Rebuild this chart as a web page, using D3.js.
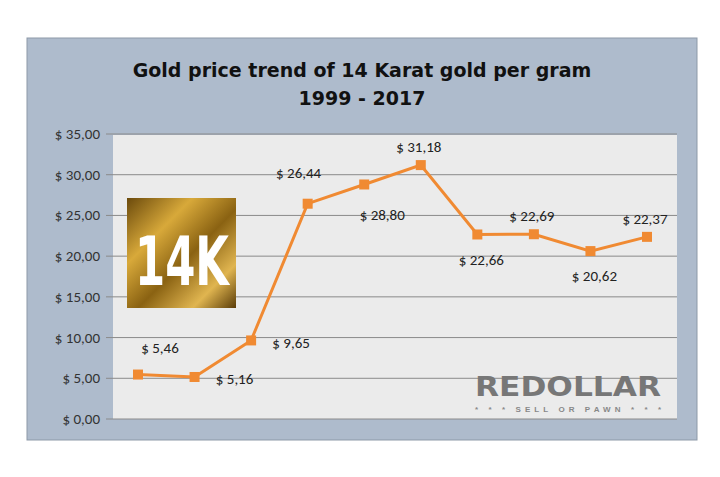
<!DOCTYPE html>
<html><head><meta charset="utf-8">
<script src="https://cdn.jsdelivr.net/npm/d3@7"></script>
<style>body{margin:0;background:#fff}</style></head>
<body><svg id="c" width="720" height="477"></svg>
<script>
const categories=["1999","2001","2003","2005","2007","2009","2011","2013","2015","2017"];
const values=[5.46,5.16,9.65,26.44,28.80,31.18,22.66,22.69,20.62,22.37];
const labelPos=["aboveRight","right","right","aboveLeft","belowRight","above","below","above","below","above"];
const yTicks=[0,5,10,15,20,25,30,35];
const off={aboveRight:[22,-27],right:[40,2],aboveLeft:[-9,-31],belowRight:[18,30],above:[-2,-18],below:[4,25]};
const svg=d3.select("#c");
svg.append("rect").attr("x",27).attr("y",38).attr("width",670).attr("height",402).attr("fill","#aebbcc").attr("stroke","#8d99a8");
svg.append("rect").attr("x",113).attr("y",135).attr("width",564).attr("height",284).attr("fill","#ebebeb");
const x=d3.scalePoint().domain(categories).range([138,647]);
const y=d3.scaleLinear().domain([0,35]).range([419,134]);
const fmt=v=>"$ "+d3.format(".2f")(v).replace(".",",");
const f="Carlito, Calibri, 'Open Sans', sans-serif";
svg.selectAll(".g").data(yTicks).enter().append("line").attr("x1",106).attr("x2",677)
 .attr("y1",d=>y(d)).attr("y2",d=>y(d)).attr("stroke","#8a8a8a").attr("stroke-width",1);
svg.selectAll(".yl").data(yTicks).enter().append("text").attr("x",100).attr("y",d=>y(d)+5)
 .attr("text-anchor","end").attr("font-family",f).attr("font-size",15).attr("fill","#333").text(fmt);
const tf="'DejaVu Sans', Arial, sans-serif";
svg.append("text").attr("x",362).attr("y",77).attr("text-anchor","middle").attr("font-family",tf)
 .attr("font-weight","bold").attr("font-size",19).attr("fill","#111").text("Gold price trend of 14 Karat gold per gram");
svg.append("text").attr("x",362).attr("y",105).attr("text-anchor","middle").attr("font-family",tf)
 .attr("font-weight","bold").attr("font-size",19).attr("fill","#111").text("1999 - 2017");
const defs=svg.append("defs");
const gr=defs.append("linearGradient").attr("id","gold").attr("x1",0).attr("y1",0).attr("x2",1).attr("y2",1);
[["0%","#6b4a0c"],["30%","#d8a93a"],["55%","#8a6212"],["80%","#e0b550"],["100%","#5a3c08"]].forEach(s=>gr.append("stop").attr("offset",s[0]).attr("stop-color",s[1]));
svg.append("rect").attr("x",127).attr("y",198).attr("width",109).attr("height",110).attr("fill","url(#gold)");
svg.append("text").attr("x",135).attr("y",285).attr("font-family","'DejaVu Sans Condensed', sans-serif")
 .attr("font-weight","bold").attr("font-size",68).attr("textLength",94).attr("lengthAdjust","spacingAndGlyphs").attr("fill","#fff").text("14K");
svg.append("text").attr("x",568).attr("y",396).attr("text-anchor","middle").attr("font-family","'DejaVu Sans', Arial, sans-serif")
 .attr("font-weight","bold").attr("font-size",27).attr("textLength",186).attr("lengthAdjust","spacingAndGlyphs").attr("fill","#777").text("REDOLLAR");
svg.append("text").attr("x",568).attr("y",412).attr("text-anchor","middle").attr("font-family","Arial, Liberation Sans, sans-serif")
 .attr("font-weight","bold").attr("font-size",8).attr("textLength",186).attr("fill","#888").text("* * *  SELL OR PAWN  * * *");
const line=d3.line().x((d,i)=>x(categories[i])).y(d=>y(d));
svg.append("path").datum(values).attr("d",line).attr("fill","none").attr("stroke","#f08a32").attr("stroke-width",3);
svg.selectAll(".m").data(values).enter().append("rect").attr("x",(d,i)=>x(categories[i])-5).attr("y",d=>y(d)-5)
 .attr("width",10).attr("height",10).attr("fill","#f08a32");
svg.selectAll(".dl").data(values).enter().append("text")
 .attr("x",(d,i)=>x(categories[i])+off[labelPos[i]][0])
 .attr("y",(d,i)=>y(d)+off[labelPos[i]][1]).attr("dy","0.35em")
 .attr("text-anchor","middle")
 .attr("font-family",f).attr("font-size",15).attr("fill","#222").text(fmt);
</script></body></html>
